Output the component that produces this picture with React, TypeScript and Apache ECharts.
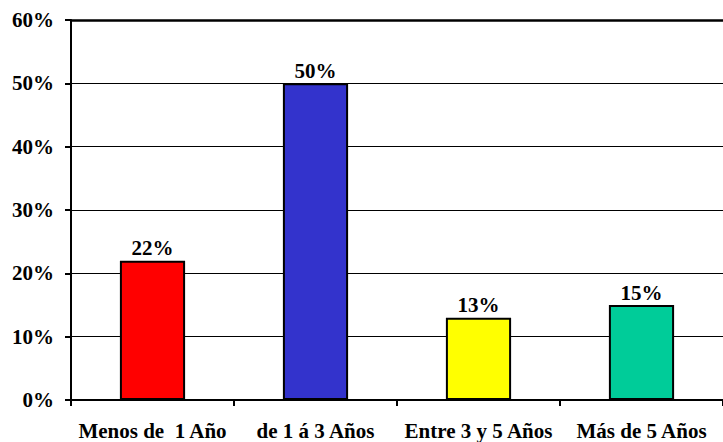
import React, { useEffect, useRef } from "react";
import * as echarts from "echarts";

const categories = ["Menos de  1 Año", "de 1 á 3 Años", "Entre 3 y 5 Años", "Más de 5 Años"];
const values = [22, 50, 13, 15];
const barColors = ["#FF0000", "#3333CC", "#FFFF00", "#00CC99"];
const yMin = 0;
const yMax = 60;
const yStep = 10;

const FONT = "Liberation Serif, Times New Roman, serif";

export default function App() {
  const ref = useRef<HTMLDivElement>(null);
  useEffect(() => {
    document.body.style.margin = "0";
    const chart = echarts.init(ref.current!, null, { renderer: "svg" });
    chart.setOption({
      animation: false,
      backgroundColor: "#FFFFFF",
      textStyle: { fontFamily: FONT },
      grid: { left: 71, right: -10, top: 20, bottom: 42, containLabel: false },
      xAxis: [
        {
          type: "category",
          data: categories,
          position: "bottom",
          axisLine: { show: true, lineStyle: { color: "#000", width: 2 } },
          axisTick: { show: true, length: 6, lineStyle: { color: "#000", width: 2 } },
          axisLabel: {
            color: "#000",
            fontFamily: FONT,
            fontWeight: "bold",
            fontSize: 21,
            margin: 20,
            interval: 0,
          },
        },
        {
          type: "category",
          data: categories,
          position: "top",
          axisLine: { show: true, lineStyle: { color: "#000", width: 2.5 } },
          axisTick: { show: false },
          axisLabel: { show: false },
        },
      ],
      yAxis: {
        type: "value",
        min: yMin,
        max: yMax,
        interval: yStep,
        axisLine: { show: true, lineStyle: { color: "#000", width: 2 } },
        axisTick: { show: true, length: 6, lineStyle: { color: "#000", width: 2 } },
        splitLine: { show: true, lineStyle: { color: "#000", width: 1 } },
        axisLabel: {
          color: "#000",
          fontFamily: FONT,
          fontWeight: "bold",
          fontSize: 21,
          margin: 17,
          formatter: (v: number) => `${v}%`,
        },
      },
      series: [
        {
          type: "bar",
          barWidth: "40%",
          data: values.map((v, i) => ({
            value: v,
            itemStyle: { color: barColors[i], borderColor: "#000", borderWidth: 2 },
          })),
          label: {
            show: true,
            position: "top",
            distance: 2,
            color: "#000",
            fontFamily: FONT,
            fontWeight: "bold",
            fontSize: 21,
            formatter: (p: any) => `${p.value}%`,
          },
        },
      ],
    });
    return () => chart.dispose();
  }, []);
  return <div ref={ref} style={{ width: 723, height: 442 }} />;
}
